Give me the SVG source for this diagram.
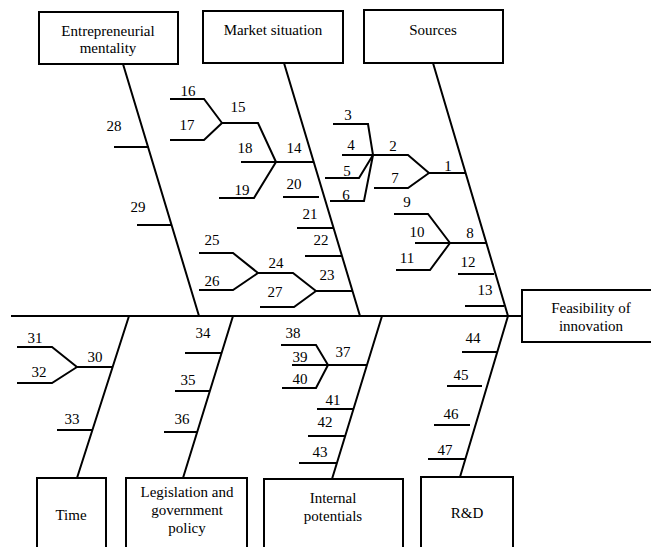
<svg xmlns="http://www.w3.org/2000/svg" width="651" height="547" viewBox="0 0 651 547">
<style>
.ln{stroke:#000;stroke-width:2;fill:none;stroke-linejoin:miter}
.box{fill:#fff;stroke:#000;stroke-width:2}
.t{font-size:15px;text-anchor:middle;fill:#000}
</style>
<rect width="651" height="547" fill="#fff"/>
<g id="connectors">
<path class="ln" d="M11,316 H522"/>
<path class="ln" d="M123,64 L199,316 M114,147 H149 M137,225 H172"/>
<path class="ln" d="M284,63 L360,316 M276,162 H314 M241,162 H276 M283,197 H319 M297,228 H333 M305,256 H342 M316,291 H352"/>
<polyline class="ln" points="222,123 258,123 276,162"/>
<polyline class="ln" points="219,198 254,198 276,162"/>
<polyline class="ln" points="170,99 204,99 222,123"/>
<polyline class="ln" points="170,140 204,140 222,123"/>
<polyline class="ln" points="258,273 293,273 316,291"/>
<polyline class="ln" points="260,307 294,307 316,291"/>
<polyline class="ln" points="199,253 233,253 258,273"/>
<polyline class="ln" points="199,290 233,290 258,273"/>
<path class="ln" d="M433,63 L508,316 M429,173 H465 M342,155 H373 M450,243 H487 M415,243 H450 M458,274 H494 M465,306 H504"/>
<polyline class="ln" points="373,155 408,155 429,173"/>
<polyline class="ln" points="374,188 408,188 429,173"/>
<polyline class="ln" points="333,124 368,124 373,155"/>
<polyline class="ln" points="325,178 359,178 373,155"/>
<polyline class="ln" points="330,201 364,201 373,155"/>
<polyline class="ln" points="394,214 428,214 450,243"/>
<polyline class="ln" points="396,270 430,270 450,243"/>
<path class="ln" d="M129,316 L77,478 M77,367 H113 M57,430 H93"/>
<polyline class="ln" points="17,347 52,347 77,367"/>
<polyline class="ln" points="17,383 52,383 77,367"/>
<path class="ln" d="M233,316 L183,478 M185,353 H222 M175,391 H210 M164,432 H197"/>
<path class="ln" d="M382,316 L332,479 M328,365 H367 M292,365 H328 M317,409 H354 M308,436 H345 M299,463 H337"/>
<polyline class="ln" points="281,345 316,345 328,365"/>
<polyline class="ln" points="282,388 316,388 328,365"/>
<path class="ln" d="M508,316 L460,477 M462,352 H497 M447,386 H482 M434,425 H470 M428,459 H465"/>
<g id="labels" font-family="Liberation Serif, DejaVu Serif, serif">
<text class="t" x="114" y="131">28</text>
<text class="t" x="138" y="212">29</text>
<text class="t" x="188" y="96">16</text>
<text class="t" x="187" y="130">17</text>
<text class="t" x="238" y="112">15</text>
<text class="t" x="245" y="153">18</text>
<text class="t" x="294" y="153">14</text>
<text class="t" x="242" y="195">19</text>
<text class="t" x="294" y="189">20</text>
<text class="t" x="310" y="219">21</text>
<text class="t" x="321" y="245">22</text>
<text class="t" x="327" y="280">23</text>
<text class="t" x="276" y="268">24</text>
<text class="t" x="275" y="297">27</text>
<text class="t" x="212" y="245">25</text>
<text class="t" x="212" y="286">26</text>
<text class="t" x="348" y="120">3</text>
<text class="t" x="351" y="150">4</text>
<text class="t" x="347" y="176">5</text>
<text class="t" x="346" y="200">6</text>
<text class="t" x="393" y="151">2</text>
<text class="t" x="395" y="183">7</text>
<text class="t" x="448" y="171">1</text>
<text class="t" x="407" y="207">9</text>
<text class="t" x="417" y="237">10</text>
<text class="t" x="470" y="238">8</text>
<text class="t" x="407" y="263">11</text>
<text class="t" x="468" y="267">12</text>
<text class="t" x="485" y="295">13</text>
<text class="t" x="35" y="343">31</text>
<text class="t" x="95" y="362">30</text>
<text class="t" x="39" y="377">32</text>
<text class="t" x="72" y="424">33</text>
<text class="t" x="203" y="338">34</text>
<text class="t" x="188" y="385">35</text>
<text class="t" x="182" y="424">36</text>
<text class="t" x="293" y="338">38</text>
<text class="t" x="343" y="357">37</text>
<text class="t" x="300" y="362">39</text>
<text class="t" x="300" y="384">40</text>
<text class="t" x="333" y="405">41</text>
<text class="t" x="325" y="427">42</text>
<text class="t" x="320" y="457">43</text>
<text class="t" x="473" y="343">44</text>
<text class="t" x="461" y="380">45</text>
<text class="t" x="451" y="419">46</text>
<text class="t" x="445" y="455">47</text>
</g>
</g>
<g id="nodes" font-family="Liberation Serif, DejaVu Serif, serif">
<g id="entrepreneurial">
<rect class="box" x="39" y="12" width="139" height="52"/>
<text class="t" x="108" y="36">Entrepreneurial</text>
<text class="t" x="108" y="53">mentality</text>
</g>
<g id="market">
<rect class="box" x="203" y="11" width="140" height="52"/>
<text class="t" x="273" y="35">Market situation</text>
</g>
<g id="sources">
<rect class="box" x="364" y="10" width="139" height="53"/>
<text class="t" x="433" y="35">Sources</text>
</g>
<g id="feasibility">
<rect class="box" x="522" y="290" width="140" height="52"/>
<text class="t" x="591" y="313">Feasibility of</text>
<text class="t" x="591" y="331">innovation</text>
</g>
<g id="time">
<rect class="box" x="37" y="478" width="69" height="90"/>
<text class="t" x="71" y="520">Time</text>
</g>
<g id="legislation">
<rect class="box" x="126" y="478" width="121" height="90"/>
<text class="t" x="187" y="497">Legislation and</text>
<text class="t" x="187" y="515">government</text>
<text class="t" x="187" y="533">policy</text>
</g>
<g id="internal">
<rect class="box" x="264" y="479" width="139" height="90"/>
<text class="t" x="333" y="503">Internal</text>
<text class="t" x="333" y="521">potentials</text>
</g>
<g id="rd">
<rect class="box" x="421" y="477" width="92" height="90"/>
<text class="t" x="467" y="518">R&amp;D</text>
</g>
</g>
</svg>
